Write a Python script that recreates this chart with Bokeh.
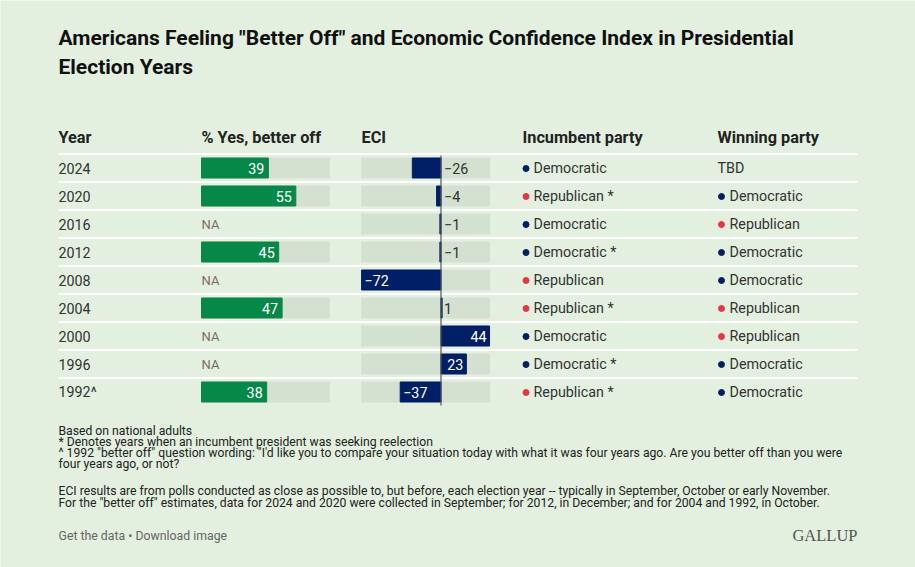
from bokeh.plotting import figure
from bokeh.models import Range1d, ColumnDataSource
from bokeh.core.properties import value
from bokeh.embed import file_html
from bokeh.resources import INLINE

# ---- data ----
years = ["2024", "2020", "2016", "2012", "2008", "2004", "2000", "1996", "1992^"]
better_off = [39, 55, None, 45, None, 47, None, None, 38]
eci = [-26, -4, -1, -1, -72, 1, 44, 23, -37]
incumbent = ["Democratic", "Republican", "Democratic", "Democratic", "Republican",
             "Republican", "Democratic", "Democratic", "Republican"]
seeking = [False, True, False, True, False, True, False, True, True]
winner = ["TBD", "Democratic", "Republican", "Democratic", "Democratic",
          "Republican", "Republican", "Democratic", "Democratic"]
headers = ["Year", "% Yes, better off", "ECI", "Incumbent party", "Winning party"]
title_lines = ['Americans Feeling "Better Off" and Economic Confidence Index in Presidential',
               'Election Years']
notes = [
    "Based on national adults",
    "* Denotes years when an incumbent president was seeking reelection",
    '^ 1992 "better off" question wording: "I\'d like you to compare your situation today with what it was four years ago. Are you better off than you were',
    "four years ago, or not?",
    "",
    "ECI results are from polls conducted as close as possible to, but before, each election year -- typically in September, October or early November.",
    'For the "better off" estimates, data for 2024 and 2020 were collected in September; for 2012, in December; and for 2004 and 1992, in October.',
]

# ---- style ----
BG = "#e3f0df"
TRACK = "#d4e1d0"
GREEN = "#068849"
NAVY = "#001f66"
RED = "#ee3340"
TXT = "#333333"
HEAD = "#222222"
ROWFONT = value("Roboto")
PARTY_COLOR = {"Democratic": NAVY, "Republican": RED}

W, H = 915, 567
p = figure(width=W, height=H, x_range=Range1d(0, W), y_range=Range1d(H, 0),
           output_backend="svg", toolbar_location=None, min_border=0)
p.axis.visible = False
p.grid.visible = False
p.outline_line_color = None
p.background_fill_color = BG
p.border_fill_color = BG

# scales for bar columns (extra ranges mapped onto full frame width)
pct_px = 1.715
pct_zero = 201
p.extra_x_ranges["pct"] = Range1d(-pct_zero / pct_px, (W - pct_zero) / pct_px)
eci_px = 1.103
eci_zero = 440.5
p.extra_x_ranges["eci"] = Range1d(-eci_zero / eci_px, (W - eci_zero) / eci_px)

row0, step = 167.5, 28
n = len(years)
ys = [row0 + i * step for i in range(n)]

# title
p.text(x=[58, 58], y=[37, 66], text=title_lines, text_font=ROWFONT, text_font_style="bold",
       text_font_size="21px", text_color="#111111", text_baseline="middle")

# headers
hx = [58, 201, 361, 522, 717]
p.text(x=hx, y=[137] * 5, text=headers, text_font=ROWFONT, text_font_style="bold",
       text_font_size="16.3px", text_color=HEAD, text_baseline="middle")

# separators
sep_y = [153.5] + [y + 14 for y in ys[:-1]]
p.segment(x0=[58] * len(sep_y), x1=[857] * len(sep_y), y0=sep_y, y1=sep_y,
          line_color="white", line_width=2.2)

# year labels
p.text(x=[58] * n, y=ys, text=years, text_font=ROWFONT, text_font_size="14.3px",
       text_color=TXT, text_baseline="middle")

# better-off bars
have = [i for i in range(n) if better_off[i] is not None]
na = [i for i in range(n) if better_off[i] is None]
bo_max = max(v for v in better_off if v is not None) + 19.6
p.hbar(y=[ys[i] for i in have], left=0, right=bo_max, height=20, color=TRACK,
       x_range_name="pct")
p.hbar(y=[ys[i] for i in have], left=0, right=[better_off[i] for i in have], height=20,
       color=GREEN, x_range_name="pct")
p.text(x=[better_off[i] for i in have], y=[ys[i] for i in have],
       text=[str(better_off[i]) for i in have], x_offset=-4, text_align="right",
       text_baseline="middle", text_font=ROWFONT, text_font_size="14.3px",
       text_color="white", x_range_name="pct")
p.text(x=[0] * len(na), y=[ys[i] for i in na], text=["NA"] * len(na),
       text_baseline="middle", text_font=ROWFONT, text_font_size="13px",
       text_color="#7b6b5e", x_range_name="pct")

# ECI bars
p.hbar(y=ys, left=min(eci), right=max(eci), height=20, color=TRACK, x_range_name="eci")
p.hbar(y=ys, left=[min(0, v) for v in eci], right=[max(0, v) for v in eci], height=20,
       color=NAVY, x_range_name="eci")
p.segment(x0=[0], x1=[0], y0=[155], y1=[405], line_color="#555555", line_width=1.2,
          x_range_name="eci")

lab = dict(x=[], y=[], text=[], align=[], color=[], off=[])
for v, y in zip(eci, ys):
    t = str(v).replace("-", "\u2212")
    label_w = 8 * len(t) + 7
    if abs(v) * eci_px >= label_w:
        lab["x"].append(v)
        lab["align"].append("left" if v < 0 else "right")
        lab["off"].append(3 if v < 0 else -3)
        lab["color"].append("white")
    else:
        lab["x"].append(0)
        lab["align"].append("left")
        lab["off"].append(3)
        lab["color"].append(TXT)
    lab["y"].append(y)
    lab["text"].append(t)
src = ColumnDataSource(lab)
p.text(x="x", y="y", text="text", text_align="align", text_color="color", x_offset="off",
       source=src, text_baseline="middle", text_font=ROWFONT, text_font_size="14.3px",
       x_range_name="eci")

# incumbent party
inc_text = [f"{pt} *" if s else pt for pt, s in zip(incumbent, seeking)]
p.scatter(x=[525.5] * n, y=[y + 0.5 for y in ys], size=6,
          color=[PARTY_COLOR[pt] for pt in incumbent])
p.text(x=[533] * n, y=ys, text=inc_text, text_font=ROWFONT, text_font_size="14.3px",
       text_color=TXT, text_baseline="middle")

# winning party
wi = [i for i in range(n) if winner[i] in PARTY_COLOR]
p.scatter(x=[721] * len(wi), y=[ys[i] + 0.5 for i in wi], size=6,
          color=[PARTY_COLOR[winner[i]] for i in wi])
p.text(x=[729 if winner[i] in PARTY_COLOR else 717 for i in range(n)], y=ys, text=winner,
       text_font=ROWFONT, text_font_size="14.3px", text_color=TXT, text_baseline="middle")

# notes
note_y = [430.5, 441.5, 452.5, 463.5, 475, 490.5, 502]
p.text(x=[58] * len(notes), y=note_y, text=notes, text_font=ROWFONT, text_font_size="12.2px",
       text_color=HEAD, text_baseline="middle")

p.text(x=[58], y=[535.5], text=["Get the data \u2022 Download image"], text_font=ROWFONT,
       text_font_size="12.3px", text_color="#666666", text_baseline="middle")
p.text(x=[857], y=[534.5], text=["GALLUP"], text_font=value("Liberation Serif"),
       text_font_size="16.5px", text_color="#555555", text_baseline="middle", text_align="right")

open("out.html", "w").write(file_html(p, INLINE))
